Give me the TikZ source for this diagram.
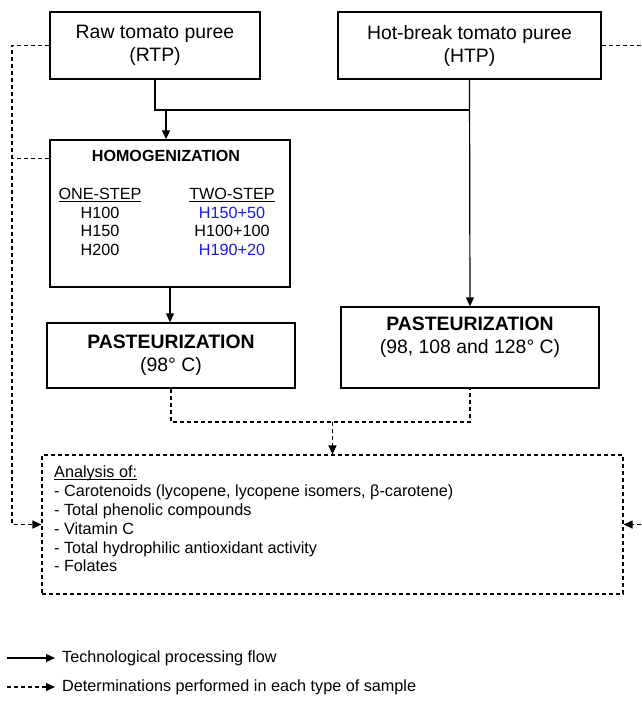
\documentclass[tikz,border=0pt]{standalone}
\usepackage{fontspec}
\setmainfont{Liberation Sans}
\usetikzlibrary{arrows.meta}

\definecolor{stepblue}{RGB}{25,25,235}
\newcommand{\uline}[1]{\underline{\smash{#1}}\vphantom{#1}}

\tikzset{
  box/.style={draw, line width=1.4pt, inner sep=0pt},
  big/.style={font=\fontsize{19.4}{23}\selectfont, align=center},
  small/.style={font=\fontsize{16.2}{18.8}\selectfont},
  link/.style={line width=1.2pt},
  flow/.style={link, -{Triangle[length=9pt, width=8pt]}},
  sample/.style={line width=1.2pt, dash pattern=on 4pt off 3pt},
  sampleflow/.style={sample, -{Triangle[length=9pt, width=8pt]}},
}

\begin{document}
\begin{tikzpicture}[x=1pt, y=-1pt]
  \useasboundingbox (0,0) rectangle (641,701);

  % Starting purees
  \node[box, big, minimum width=210pt, minimum height=67pt] (rtp) at (155,45.5) {Raw tomato puree\\(RTP)};
  \node[box, big, minimum width=263pt, minimum height=67pt] (htp) at (469.5,45.5) {Hot-break tomato puree\\(HTP)};

  % Homogenization box
  \node[box, minimum width=240pt, minimum height=147pt] (homog) at (170,213.5) {};
  \node[font=\bfseries\fontsize{16.1}{19}\selectfont] (homtitle) at (166,156) {HOMOGENIZATION};
  \node[small, align=center] (onestep) at (100,222) {\uline{ONE-STEP}\\H100\\H150\\H200};
  \node[small, align=center] (twostep) at (232,222) {\uline{TWO-STEP}\\\textcolor{stepblue}{H150+50}\\H100+100\\\textcolor{stepblue}{H190+20}};

  % Pasteurization boxes
  \node[box, big, minimum width=248pt, minimum height=65pt] (pastL) at (171,355.5) {\textbf{PASTEURIZATION}\\(98° C)};
  \node[box, minimum width=258pt, minimum height=81pt] (pastR) at (470,347.5) {};
  \node[big] (pastRtxt) at (470,337) {\textbf{PASTEURIZATION}\\(98, 108 and 128° C)};

  % Analysis box
  \node[box, dash pattern=on 4pt off 3pt, line width=1.2pt, minimum width=581pt, minimum height=139pt] (analysis) at (332.5,524.5) {};
  \node[small, align=left, anchor=north west, inner sep=0pt] (analysistxt) at (54,466) {\uline{Analysis of:}\\- Carotenoids (lycopene, lycopene isomers, β-carotene)\\- Total phenolic compounds\\- Vitamin C\\- Total hydrophilic antioxidant activity\\- Folates};

  % Processing flow
  \coordinate (split) at (166,110);
  \draw[link] (rtp.south) |- (split -| htp.south);
  \draw[flow] (split) -- (split |- homog.north);
  \draw[flow] (htp.south) -- (pastR.north);
  \draw[flow] (homog.south) -- (homog.south |- pastL.north);

  % Sampling for analysis
  \coordinate (merge) at (332.5,422);
  \draw[sample] (pastL.south) |- (merge) -| (pastR.south);
  \draw[sampleflow] (merge) -- (analysis.north);

  \coordinate (leftrail) at (12,45.5);
  \draw[sampleflow] (rtp.west) -- (leftrail) |- (analysis.west);
  \draw[sample] (homog.north west) ++(0,19) -- ++(-38,0);

  \coordinate (rtop) at (641,45.5);
  \coordinate (rbot) at (641,524.5);
  \draw[sample] (htp.east) -- (rtop);
  \draw[sampleflow] (rbot) -- (analysis.east);

  % Legend
  \coordinate (flowstart) at (7,658);
  \node[small, anchor=west, inner sep=0pt, inner xsep=7pt] (flowkey) at (55,658) {Technological processing flow};
  \draw[flow] (flowstart) -- (flowkey);

  \coordinate (samplestart) at (7,687);
  \node[small, anchor=west, inner sep=0pt, inner xsep=7pt] (samplekey) at (55,687) {Determinations performed in each type of sample};
  \draw[sampleflow] (samplestart) -- (samplekey);

\end{tikzpicture}
\end{document}
